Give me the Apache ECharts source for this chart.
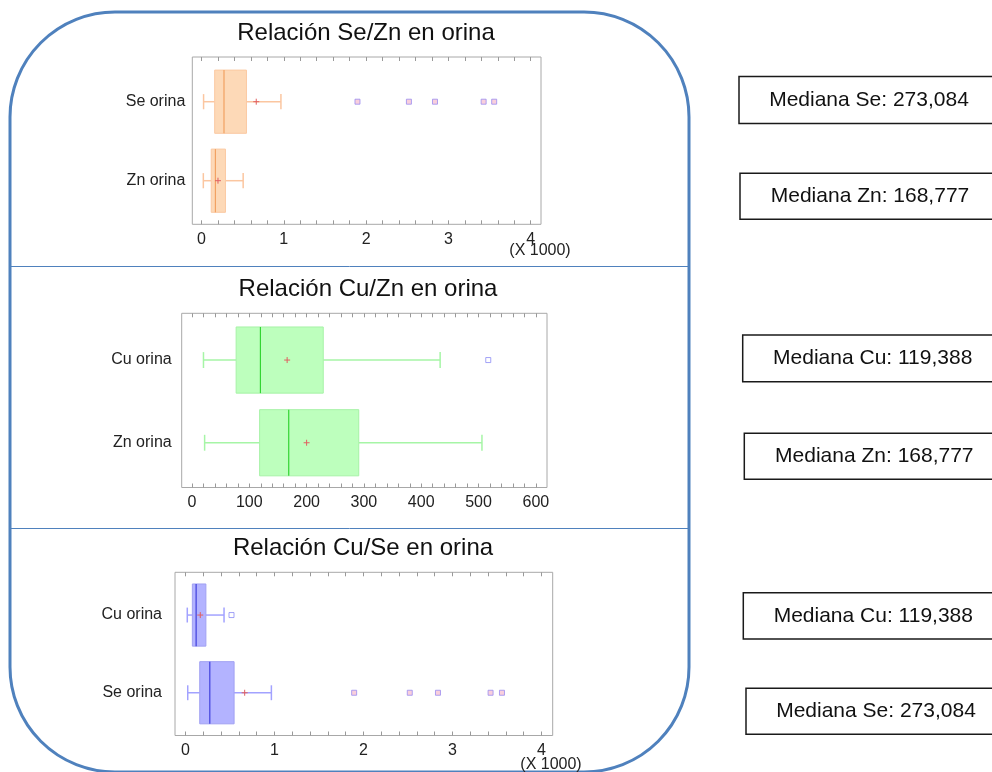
<!DOCTYPE html>
<html><head><meta charset="utf-8">
<script src="https://cdn.jsdelivr.net/npm/echarts@6/dist/echarts.min.js"></script>
<style>html,body{margin:0;padding:0;background:#fff}#c{width:992px;height:772px}</style>
</head><body><div id="c"></div>
<script>
// ---- data ----
const categories1 = ['Se orina', 'Zn orina'];
const categories2 = ['Cu orina', 'Zn orina'];
const categories3 = ['Cu orina', 'Se orina'];
// [lower whisker, Q1, median, Q3, upper whisker]
const seBox = [25, 160, 273.084, 546, 965];
const znBox = [22, 118, 168.777, 291, 506];
const cuBox = [20, 77, 119.388, 229, 433];
const seMean = 665;
const znMean = 200;
const cuMean = 166;
const seOutliers = [1895, 2520, 2837, 3428, 3556];
const cuOutliers = [517];
const labelsThousands = [0, 1000, 2000, 3000, 4000];
const labelsHundreds = [0, 100, 200, 300, 400, 500, 600];
const titles = ['Relación Se/Zn en orina', 'Relación Cu/Zn en orina', 'Relación Cu/Se en orina'];
const medianLabels = ['Mediana Se: 273,084', 'Mediana Zn: 168,777', 'Mediana Cu: 119,388',
                      'Mediana Zn: 168,777', 'Mediana Cu: 119,388', 'Mediana Se: 273,084'];
const scaleNote = '(X 1000)';

// ---- helpers ----
const FONT = '"Liberation Sans", Arial, sans-serif';
function minorTicks(maxV, step) { const a = []; for (let v = 0; v <= maxV + 1e-9; v += step) a.push(v); return a; }

const palettes = [
  { fill: '#fdd9b7', border: '#fbc9a2', median: '#f2a262', whisker: '#fbc6a0' },
  { fill: '#bdffbd', border: '#a6f2a6', median: '#33d433', whisker: '#a6f5a6' },
  { fill: '#b3b3ff', border: '#a0a0f2', median: '#4040dc', whisker: '#a2a2ff' }
];

function boxRender(pal) {
  return function (params, api) {
    const cat = api.value(0);
    const lo = api.value(1), q1 = api.value(2), med = api.value(3), q3 = api.value(4), hi = api.value(5), mean = api.value(6);
    const c = api.coord([0, cat])[1];
    const band = api.size([0, 1])[1];
    const h = band * 0.8;
    const cap = h * 0.24;
    const X = v => api.coord([v, cat])[0];
    const children = [
      { type: 'line', shape: { x1: X(lo), y1: c, x2: X(q1), y2: c }, style: { stroke: pal.whisker, lineWidth: 1.5 } },
      { type: 'line', shape: { x1: X(q3), y1: c, x2: X(hi), y2: c }, style: { stroke: pal.whisker, lineWidth: 1.5 } },
      { type: 'line', shape: { x1: X(lo), y1: c - cap / 2, x2: X(lo), y2: c + cap / 2 }, style: { stroke: pal.whisker, lineWidth: 1.5 } },
      { type: 'line', shape: { x1: X(hi), y1: c - cap / 2, x2: X(hi), y2: c + cap / 2 }, style: { stroke: pal.whisker, lineWidth: 1.5 } },
      { type: 'rect', shape: { x: X(q1), y: c - h / 2, width: X(q3) - X(q1), height: h }, style: { fill: pal.fill, stroke: pal.border, lineWidth: 1 } },
      { type: 'line', shape: { x1: X(med), y1: c - h / 2, x2: X(med), y2: c + h / 2 }, style: { stroke: pal.median, lineWidth: 1.2 } },
      { type: 'line', shape: { x1: X(mean) - 3, y1: c, x2: X(mean) + 3, y2: c }, style: { stroke: '#e06060', lineWidth: 1 } },
      { type: 'line', shape: { x1: X(mean), y1: c - 3, x2: X(mean), y2: c + 3 }, style: { stroke: '#e06060', lineWidth: 1 } }
    ];
    return { type: 'group', children };
  };
}

// frame grids (border + x ticks/labels)
const frames = [
  { left: 192.3, top: 57, width: 348.7, height: 167.3 },
  { left: 181.7, top: 313.3, width: 365.3, height: 174.2 },
  { left: 175, top: 572.3, width: 377.7, height: 163.2 }
];
// inner plotting bands (category axis + boxes)
const inners = [
  { top: 62.2, height: 158 },
  { top: 318.7, height: 165.4 },
  { top: 576.2, height: 155.4 }
];
const ranges = [[-112, 4125], [-18, 619.5], [-118, 4126]];
const labelVals = [labelsThousands, labelsHundreds, labelsThousands];
const tickVals = [minorTicks(4000, 200), minorTicks(600, 20), minorTicks(4000, 200)];
const cats = [categories1, categories2, categories3];
const labelMargins = [7, 10, 13];

const grids = [];
frames.forEach(f => grids.push(Object.assign({ show: true, borderColor: '#a8a8a8', borderWidth: 1, backgroundColor: 'transparent' }, f)));
inners.forEach((n, g) => grids.push({ left: frames[g].left, width: frames[g].width, top: n.top, height: n.height }));

const xAxes = [], yAxes = [];
for (let g = 0; g < 3; g++) {
  const fmt = g === 1 ? (v => String(v)) : (v => String(v / 1000));
  xAxes.push({
    type: 'value', gridIndex: g, position: 'bottom', min: ranges[g][0], max: ranges[g][1],
    axisLine: { show: false }, splitLine: { show: false },
    axisTick: { show: true, inside: true, length: 4, customValues: tickVals[g], lineStyle: { color: '#999' } },
    axisLabel: { show: true, customValues: labelVals[g], formatter: fmt, fontSize: 16, color: '#222', fontFamily: FONT, margin: 7 }
  });
  xAxes.push({
    type: 'value', gridIndex: g, position: 'top', min: ranges[g][0], max: ranges[g][1],
    axisLine: { show: false }, splitLine: { show: false },
    axisTick: { show: true, inside: true, length: 4, customValues: tickVals[g], lineStyle: { color: '#999' } },
    axisLabel: { show: false }
  });
}
for (let g = 0; g < 3; g++) {
  xAxes.push({
    type: 'value', gridIndex: 3 + g, min: ranges[g][0], max: ranges[g][1], show: false
  });
}
for (let g = 0; g < 3; g++) {
  yAxes.push({
    type: 'category', gridIndex: 3 + g, data: cats[g], inverse: true,
    axisLine: { show: false }, axisTick: { show: false }, splitLine: { show: false },
    axisLabel: { fontSize: 16, color: '#222', fontFamily: FONT, margin: labelMargins[g] }
  });
}
for (let g = 0; g < 3; g++) {
  yAxes.push({ type: 'value', gridIndex: g, show: false, min: 0, max: 1 });
}

const boxesPerPanel = [
  [[0, ...seBox, seMean], [1, ...znBox, znMean]],
  [[0, ...cuBox, cuMean], [1, ...znBox, znMean]],
  [[0, ...cuBox, cuMean], [1, ...seBox, seMean]]
];

const series = [];
for (let g = 0; g < 3; g++) {
  series.push({
    type: 'custom', xAxisIndex: 6 + g, yAxisIndex: g, renderItem: boxRender(palettes[g]),
    encode: { x: [1, 2, 3, 4, 5, 6], y: 0 }, data: boxesPerPanel[g], silent: true, z: 2
  });
}
const pinkOut = { color: '#f7c3d3', borderColor: '#9a8cf0', borderWidth: 1 };
const blueOut = { color: '#ffffff', borderColor: '#8c8cf5', borderWidth: 1 };
series.push({ type: 'scatter', xAxisIndex: 6, yAxisIndex: 0, symbol: 'rect', symbolSize: 5, itemStyle: pinkOut,
  data: seOutliers.map(v => [v, categories1[0]]), z: 3 });
series.push({ type: 'scatter', xAxisIndex: 7, yAxisIndex: 1, symbol: 'rect', symbolSize: 5, itemStyle: blueOut,
  data: cuOutliers.map(v => [v, categories2[0]]), z: 3 });
series.push({ type: 'scatter', xAxisIndex: 8, yAxisIndex: 2, symbol: 'rect', symbolSize: 5, itemStyle: blueOut,
  data: cuOutliers.map(v => [v, categories3[0]]), z: 3 });
series.push({ type: 'scatter', xAxisIndex: 8, yAxisIndex: 2, symbol: 'rect', symbolSize: 5, itemStyle: pinkOut,
  data: seOutliers.map(v => [v, categories3[1]]), z: 3 });

// ---- decorations ----
const graphic = [
  { type: 'rect', shape: { x: 10, y: 12, width: 679, height: 760, r: 105 }, style: { fill: 'none', stroke: '#4f81bd', lineWidth: 3 }, z: 0 },
  { type: 'line', shape: { x1: 10, y1: 266.5, x2: 689, y2: 266.5 }, style: { stroke: '#4f81bd', lineWidth: 1 } },
  { type: 'line', shape: { x1: 10, y1: 528.5, x2: 689, y2: 528.5 }, style: { stroke: '#4f81bd', lineWidth: 1 } }
];
const titlePos = [[366, 33], [368, 289], [363, 548]];
titles.forEach((t, i) => graphic.push({ type: 'text', x: titlePos[i][0], y: titlePos[i][1],
  style: { text: t, textAlign: 'center', textVerticalAlign: 'middle', font: '24px ' + FONT, fill: '#111' } }));
[[540, 251], [551, 765]].forEach(p => graphic.push({ type: 'text', x: p[0], y: p[1],
  style: { text: scaleNote, textAlign: 'center', textVerticalAlign: 'middle', font: '16px ' + FONT, fill: '#222' } }));
const boxPos = [[739, 76.5, 47], [740, 173.3, 46], [742.7, 335, 46.7], [744.3, 433.3, 46], [743.3, 592.7, 46.3], [746, 688.3, 46]];
medianLabels.forEach((t, i) => {
  const b = boxPos[i];
  graphic.push({ type: 'rect', shape: { x: b[0], y: b[1], width: 270, height: b[2] }, style: { fill: '#fff', stroke: '#1a1a1a', lineWidth: 1.5 } });
  graphic.push({ type: 'text', x: b[0] + 130, y: b[1] + b[2] / 2, style: { text: t, textAlign: 'center', textVerticalAlign: 'middle', font: '21px ' + FONT, fill: '#111' } });
});

const chart = echarts.init(document.getElementById('c'), null, { renderer: 'canvas' });
chart.setOption({
  animation: false,
  backgroundColor: '#fff',
  grid: grids,
  xAxis: xAxes,
  yAxis: yAxes,
  series,
  graphic
});
</script></body></html>
